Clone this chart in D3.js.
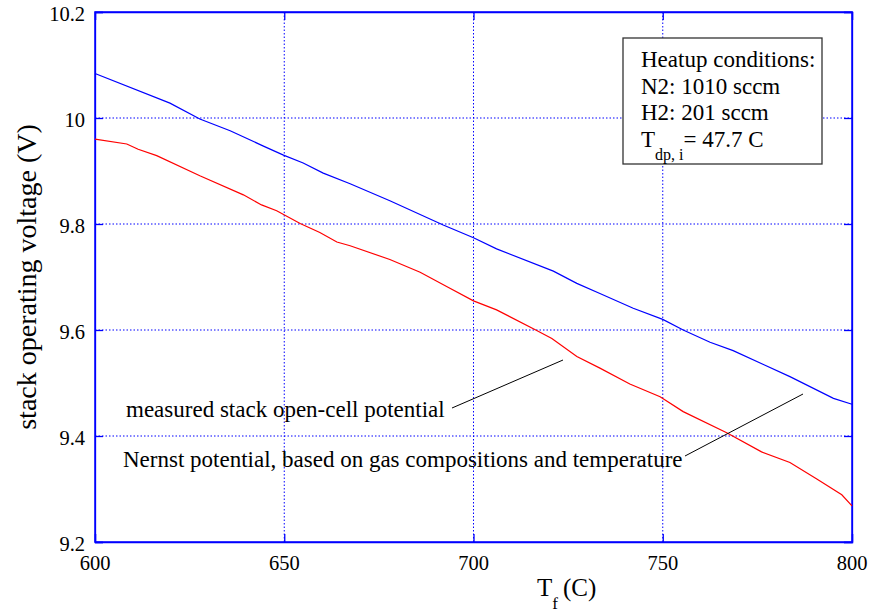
<!DOCTYPE html>
<html>
<head>
<meta charset="utf-8">
<script src="https://d3js.org/d3.v7.min.js"></script>
<style>
    body { margin: 0; background: #fff; }
    text { font-family: "Liberation Serif", "Times New Roman", serif; fill: #000; }
</style>
</head>
<body>
<script>
// measured stack open-cell potential (blue)
var measT = [600, 619.8, 627.7, 635.7, 644.5, 649.8, 655, 660.3, 667.4, 677.9, 692, 700, 706.1, 721.1, 727.3, 733.4, 742.2, 750, 755.4, 762.5, 768.6, 776.6, 783.6, 795.1, 800];
var measV = [10.084, 10.028, 9.998, 9.976, 9.947, 9.930, 9.915, 9.896, 9.876, 9.844, 9.798, 9.774, 9.753, 9.711, 9.688, 9.669, 9.641, 9.620, 9.600, 9.577, 9.561, 9.535, 9.512, 9.471, 9.460];

// Nernst potential (red)
var nernstT = [600, 608.4, 611.4, 616.3, 627.7, 639.2, 644, 648, 654.2, 659.4, 663.9, 667.4, 677.9, 685.9, 692.9, 700, 706.1, 716.7, 720.7, 727.3, 733.4, 741.3, 749.3, 755.4, 766.9, 776.1, 783.6, 790.7, 797.3, 800];
var nernstV = [9.960, 9.951, 9.941, 9.929, 9.891, 9.855, 9.836, 9.825, 9.801, 9.784, 9.766, 9.759, 9.733, 9.709, 9.682, 9.655, 9.638, 9.599, 9.584, 9.550, 9.528, 9.498, 9.474, 9.446, 9.406, 9.370, 9.350, 9.319, 9.289, 9.268];

var xTicks = [600, 650, 700, 750, 800];
var yTicks = [9.2, 9.4, 9.6, 9.8, 10, 10.2];
var legendLines = ["Heatup conditions:", "N2: 1010 sccm", "H2: 201 sccm"];

var W = 870, H = 614;
var pL = 95, pR = 852, pT = 12, pB = 542;

var svg = d3.select("body").append("svg")
    .attr("width", W)
    .attr("height", H);

var x = d3.scaleLinear().domain([600, 800]).range([pL, pR]);
var y = d3.scaleLinear().domain([9.2, 10.2]).range([pB, pT]);

// grid
var grid = svg.append("g");
grid.selectAll("line.gx")
    .data(xTicks.slice(1, -1))
    .enter().append("line")
    .attr("class", "gx")
    .attr("x1", function (d) { return x(d) }).attr("x2", function (d) { return x(d) })
    .attr("y1", pT).attr("y2", pB)
    .attr("stroke", "#0000ff").attr("stroke-width", 1).attr("stroke-dasharray", "1.5,2");
grid.selectAll("line.gy")
    .data(yTicks.slice(1, -1))
    .enter().append("line")
    .attr("class", "gy")
    .attr("x1", pL).attr("x2", pR)
    .attr("y1", function (d) { return y(d) }).attr("y2", function (d) { return y(d) })
    .attr("stroke", "#0000ff").attr("stroke-width", 1).attr("stroke-dasharray", "1.5,2");

// axes (ticks pointing inward, on all four sides)
var axes = svg.append("g");
axes.append("g").attr("transform", "translate(0," + pB + ")")
    .call(d3.axisTop(x).tickValues(xTicks).tickSize(8).tickFormat(""));
axes.append("g").attr("transform", "translate(0," + pT + ")")
    .call(d3.axisBottom(x).tickValues(xTicks).tickSize(8).tickFormat(""));
axes.append("g").attr("transform", "translate(" + pL + ",0)")
    .call(d3.axisRight(y).tickValues(yTicks).tickSize(8).tickFormat(""));
axes.append("g").attr("transform", "translate(" + pR + ",0)")
    .call(d3.axisLeft(y).tickValues(yTicks).tickSize(8).tickFormat(""));
axes.selectAll(".domain, .tick line").attr("stroke", "#0000ff").attr("stroke-width", 1.3);
axes.selectAll(".tick text").remove();

svg.append("rect")
    .attr("x", pL).attr("y", pT)
    .attr("width", pR - pL).attr("height", pB - pT)
    .attr("fill", "none").attr("stroke", "#0000ff").attr("stroke-width", 1.5);

// tick labels
svg.selectAll("text.xl")
    .data(xTicks)
    .enter().append("text")
    .attr("class", "xl")
    .attr("x", function (d) { return x(d) })
    .attr("y", pB + 28)
    .attr("text-anchor", "middle")
    .style("font-size", "20.5px")
    .text(function (d) { return d });
svg.selectAll("text.yl")
    .data(yTicks)
    .enter().append("text")
    .attr("class", "yl")
    .attr("x", pL - 10)
    .attr("y", function (d) { return y(d) + 8.5 })
    .attr("text-anchor", "end")
    .style("font-size", "20.5px")
    .text(function (d) { return d });

// lines
var line = d3.line()
    .x(function (d) { return x(d[0]) })
    .y(function (d) { return y(d[1]) });

svg.append("path")
    .datum(d3.zip(measT, measV))
    .attr("d", line)
    .attr("fill", "none").attr("stroke", "#0000ff").attr("stroke-width", 1.2);
svg.append("path")
    .datum(d3.zip(nernstT, nernstV))
    .attr("d", line)
    .attr("fill", "none").attr("stroke", "#ff0000").attr("stroke-width", 1.2);

// annotations
svg.append("text").attr("x", 126).attr("y", 417).style("font-size", "23px")
    .text("measured stack open-cell potential");
svg.append("line").attr("x1", 452).attr("y1", 408).attr("x2", 563).attr("y2", 360)
    .attr("stroke", "#000").attr("stroke-width", 1);
svg.append("text").attr("x", 123).attr("y", 467).style("font-size", "23px")
    .text("Nernst potential, based on gas compositions and temperature");
svg.append("line").attr("x1", 685).attr("y1", 456).attr("x2", 803).attr("y2", 394)
    .attr("stroke", "#000").attr("stroke-width", 1);

// legend box
svg.append("rect").attr("x", 623).attr("y", 38).attr("width", 199).attr("height", 126)
    .attr("fill", "#fff").attr("stroke", "#333").attr("stroke-width", 1.3);
svg.selectAll("text.lg")
    .data(legendLines)
    .enter().append("text")
    .attr("class", "lg")
    .attr("x", 641)
    .attr("y", function (d, i) { return 67 + i * 26.7 })
    .style("font-size", "23px")
    .text(function (d) { return d });
var lt = svg.append("text").attr("x", 641).attr("y", 147).style("font-size", "23px");
lt.append("tspan").text("T");
lt.append("tspan").attr("dy", 13).style("font-size", "16px").text("dp, i");
lt.append("tspan").attr("dy", -13).text("= 47.7 C");

// axis labels
var xt = svg.append("text").attr("x", 537).attr("y", 596).style("font-size", "25px");
xt.append("tspan").text("T");
xt.append("tspan").attr("dy", 13).style("font-size", "17px").text("f");
xt.append("tspan").attr("dy", -13).attr("dx", 5).text("(C)");

svg.append("text")
    .attr("transform", "translate(36,277) rotate(-90)")
    .attr("text-anchor", "middle")
    .style("font-size", "28px")
    .text("stack operating voltage (V)");
</script>
</body>
</html>
